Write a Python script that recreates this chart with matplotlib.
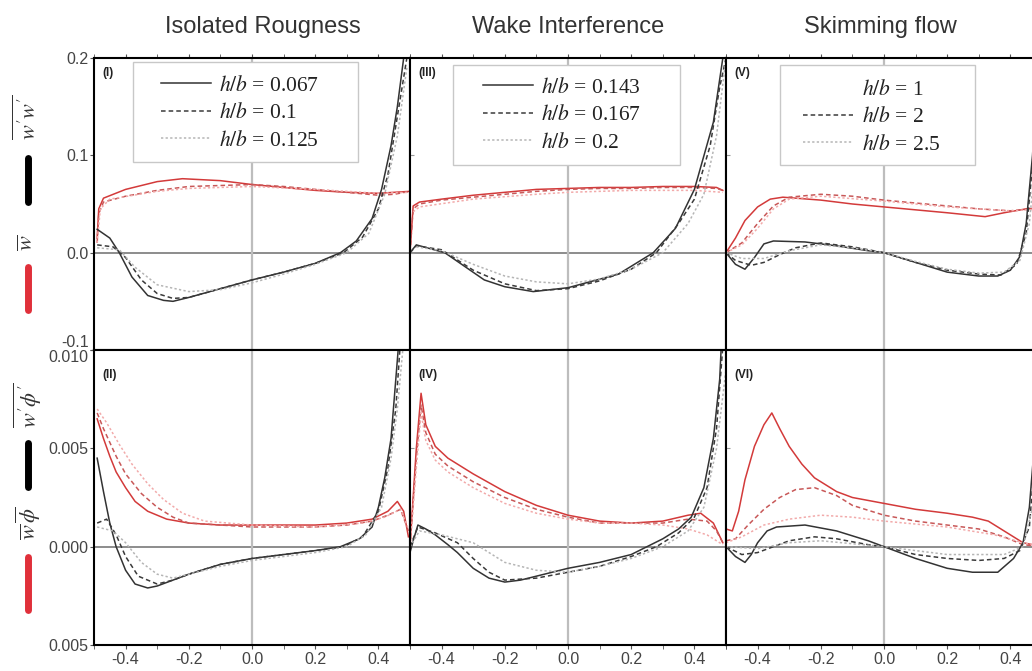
import numpy as np
import matplotlib
matplotlib.use("Agg")
import matplotlib.pyplot as plt
from matplotlib.lines import Line2D
from matplotlib.patches import Rectangle
from matplotlib.ticker import FixedLocator, FixedFormatter, MultipleLocator

plt.rcParams['font.family'] = ['Liberation Sans', 'DejaVu Sans']
plt.rcParams['mathtext.fontset'] = 'stix'

# -------------------------
# data
# -------------------------
col_titles = ["Isolated Rougness", "Wake Interference", "Skimming flow"]
panel_tags = [["(I)", "(III)", "(V)"], ["(II)", "(IV)", "(VI)"]]
legend_labels = [["0.067", "0.1", "0.125"], ["0.143", "0.167", "0.2"], ["1", "2", "2.5"]]

top_yticks = [0.2, 0.1, 0.0, -0.1]
top_ytick_labels = ["0.2", "0.1", "0.0", "-0.1"]
bot_yticks = [0.010, 0.005, 0.000, -0.005]
bot_ytick_labels = ["0.010", "0.005", "0.000", "0.005"]
xticks = [-0.4, -0.2, 0.0, 0.2, 0.4]
xtick_labels = ["-0.4", "-0.2", "0.0", "0.2", "0.4"]

# panel I : turbulent flux (black) and mean (red), three h/b each
p1_k_solid_x = [-0.49, -0.45, -0.42, -0.38, -0.33, -0.28, -0.25, -0.2, -0.1, 0.0, 0.1, 0.2, 0.28, 0.33, 0.38, 0.41, 0.44, 0.46, 0.48]
p1_k_solid_y = [0.024, 0.015, 0.0, -0.025, -0.044, -0.049, -0.050, -0.046, -0.037, -0.028, -0.020, -0.011, 0.0, 0.012, 0.035, 0.065, 0.11, 0.15, 0.2]
p1_k_dash_x = [-0.49, -0.44, -0.40, -0.35, -0.3, -0.25, -0.2, -0.1, 0.0, 0.1, 0.2, 0.29, 0.35, 0.40, 0.43, 0.46, 0.49]
p1_k_dash_y = [0.008, 0.006, -0.005, -0.028, -0.042, -0.047, -0.046, -0.037, -0.028, -0.020, -0.011, 0.0, 0.016, 0.045, 0.08, 0.14, 0.2]
p1_k_dot_x = [-0.49, -0.42, -0.37, -0.3, -0.2, -0.1, 0.0, 0.1, 0.2, 0.3, 0.37, 0.42, 0.46, 0.49]
p1_k_dot_y = [0.005, 0.003, -0.015, -0.033, -0.040, -0.038, -0.031, -0.022, -0.012, 0.0, 0.02, 0.06, 0.12, 0.19]
p1_r_solid_x = [-0.49, -0.485, -0.47, -0.4, -0.3, -0.22, -0.1, 0.0, 0.1, 0.2, 0.3, 0.4, 0.45, 0.5]
p1_r_solid_y = [0.015, 0.045, 0.056, 0.065, 0.073, 0.076, 0.074, 0.070, 0.067, 0.064, 0.062, 0.061, 0.062, 0.063]
p1_r_dash_x = [-0.49, -0.485, -0.47, -0.4, -0.3, -0.2, -0.1, 0.0, 0.1, 0.2, 0.3, 0.4, 0.45, 0.5]
p1_r_dash_y = [0.010, 0.040, 0.052, 0.058, 0.064, 0.068, 0.069, 0.070, 0.068, 0.065, 0.062, 0.059, 0.060, 0.063]
p1_r_dot_x = [-0.49, -0.48, -0.45, -0.3, -0.2, 0.0, 0.2, 0.4, 0.5]
p1_r_dot_y = [0.010, 0.045, 0.055, 0.063, 0.066, 0.068, 0.065, 0.061, 0.062]

# panel III
p3_k_solid_x = [-0.5, -0.48, -0.39, -0.265, -0.2, -0.11, 0.0, 0.16, 0.27, 0.34, 0.40, 0.46, 0.49]
p3_k_solid_y = [0.0, 0.008, 0.0, -0.028, -0.035, -0.040, -0.036, -0.022, 0.0, 0.025, 0.065, 0.134, 0.2]
p3_k_dash_x = [-0.5, -0.48, -0.4, -0.3, -0.2, -0.1, 0.0, 0.1, 0.2, 0.28, 0.35, 0.4, 0.45, 0.48, 0.5]
p3_k_dash_y = [0.0, 0.007, 0.003, -0.018, -0.032, -0.039, -0.037, -0.029, -0.017, 0.0, 0.03, 0.055, 0.11, 0.17, 0.2]
p3_k_dot_x = [-0.48, -0.4, -0.3, -0.2, -0.1, 0.0, 0.1, 0.2, 0.3, 0.38, 0.43, 0.47, 0.5]
p3_k_dot_y = [0.006, 0.002, -0.012, -0.024, -0.030, -0.032, -0.027, -0.017, 0.0, 0.03, 0.06, 0.12, 0.2]
p3_r_solid_x = [-0.5, -0.49, -0.47, -0.4, -0.3, -0.2, -0.1, 0.0, 0.1, 0.2, 0.3, 0.4, 0.47, 0.49]
p3_r_solid_y = [0.0, 0.048, 0.052, 0.055, 0.059, 0.062, 0.065, 0.066, 0.067, 0.067, 0.068, 0.068, 0.067, 0.064]
p3_r_dash_x = [-0.5, -0.49, -0.47, -0.4, -0.3, -0.2, -0.1, 0.0, 0.1, 0.2, 0.3, 0.4, 0.47, 0.49]
p3_r_dash_y = [0.0, 0.045, 0.050, 0.054, 0.057, 0.060, 0.063, 0.065, 0.066, 0.066, 0.067, 0.067, 0.066, 0.064]
p3_r_dot_x = [-0.49, -0.47, -0.3, -0.1, 0.0, 0.2, 0.4, 0.49]
p3_r_dot_y = [0.042, 0.047, 0.055, 0.060, 0.062, 0.064, 0.064, 0.062]

# panel V
p5_k_solid_x = [-0.5, -0.47, -0.44, -0.41, -0.38, -0.35, -0.25, -0.15, -0.05, 0.0, 0.1, 0.2, 0.3, 0.36, 0.4, 0.43, 0.45, 0.47, 0.49]
p5_k_solid_y = [0.0, -0.012, -0.017, -0.005, 0.009, 0.012, 0.011, 0.007, 0.002, 0.0, -0.010, -0.020, -0.024, -0.024, -0.018, -0.004, 0.03, 0.1, 0.2]
p5_k_dash_x = [-0.5, -0.47, -0.42, -0.38, -0.33, -0.28, -0.2, -0.1, 0.0, 0.1, 0.2, 0.3, 0.37, 0.42, 0.45, 0.47, 0.49]
p5_k_dash_y = [0.0, -0.008, -0.013, -0.010, -0.002, 0.005, 0.010, 0.006, 0.0, -0.010, -0.018, -0.022, -0.023, -0.012, 0.02, 0.09, 0.2]
p5_k_dot_x = [-0.5, -0.45, -0.38, -0.3, -0.2, -0.1, 0.0, 0.1, 0.2, 0.3, 0.38, 0.43, 0.46, 0.48, 0.5]
p5_k_dot_y = [0.0, -0.006, -0.006, 0.002, 0.008, 0.005, 0.0, -0.009, -0.017, -0.021, -0.020, -0.008, 0.03, 0.1, 0.2]
p5_r_solid_x = [-0.5, -0.47, -0.44, -0.4, -0.36, -0.32, -0.2, -0.1, 0.0, 0.1, 0.2, 0.32, 0.38, 0.45, 0.5]
p5_r_solid_y = [0.0, 0.015, 0.033, 0.047, 0.055, 0.057, 0.054, 0.050, 0.047, 0.044, 0.041, 0.037, 0.041, 0.045, 0.046]
p5_r_dash_x = [-0.5, -0.45, -0.4, -0.35, -0.3, -0.2, -0.1, 0.0, 0.1, 0.2, 0.3, 0.4, 0.5]
p5_r_dash_y = [0.0, 0.010, 0.030, 0.048, 0.057, 0.060, 0.058, 0.054, 0.051, 0.048, 0.045, 0.043, 0.046]
p5_r_dot_x = [-0.5, -0.45, -0.4, -0.35, -0.3, -0.2, 0.0, 0.2, 0.4, 0.5]
p5_r_dot_y = [0.0, 0.008, 0.025, 0.045, 0.055, 0.058, 0.053, 0.047, 0.043, 0.045]

# panel II
p2_k_solid_x = [-0.49, -0.47, -0.45, -0.43, -0.4, -0.37, -0.33, -0.3, -0.2, -0.1, 0.0, 0.1, 0.2, 0.28, 0.34, 0.38, 0.4, 0.42, 0.44, 0.46, 0.465]
p2_k_solid_y = [0.0045, 0.0028, 0.0012, 0.0, -0.0012, -0.0019, -0.0021, -0.0020, -0.0014, -0.0009, -0.0006, -0.0004, -0.0002, 0.0, 0.0004, 0.0010, 0.0020, 0.0035, 0.0055, 0.0095, 0.0105]
p2_k_dash_x = [-0.49, -0.46, -0.43, -0.4, -0.36, -0.3, -0.25, -0.2, -0.1, 0.0, 0.1, 0.2, 0.29, 0.35, 0.4, 0.43, 0.455, 0.47]
p2_k_dash_y = [0.0012, 0.0014, 0.0006, -0.0005, -0.0015, -0.0019, -0.0017, -0.0014, -0.0009, -0.0006, -0.0004, -0.0002, 0.0, 0.0005, 0.0018, 0.0040, 0.0070, 0.0105]
p2_k_dot_x = [-0.49, -0.44, -0.4, -0.35, -0.3, -0.25, -0.2, -0.1, 0.0, 0.1, 0.2, 0.3, 0.36, 0.41, 0.44, 0.46, 0.48]
p2_k_dot_y = [0.0010, 0.0008, 0.0002, -0.0008, -0.0014, -0.0016, -0.0014, -0.0010, -0.0007, -0.0005, -0.0003, 0.0, 0.0006, 0.0020, 0.0045, 0.0070, 0.0105]
p2_r_solid_x = [-0.49, -0.47, -0.45, -0.43, -0.4, -0.37, -0.33, -0.27, -0.2, -0.1, 0.0, 0.1, 0.2, 0.3, 0.38, 0.43, 0.46, 0.48, 0.495]
p2_r_solid_y = [0.0065, 0.0055, 0.0046, 0.0038, 0.0030, 0.0023, 0.0018, 0.0014, 0.0012, 0.0011, 0.0011, 0.0011, 0.0011, 0.0012, 0.0014, 0.0018, 0.0023, 0.0018, 0.0005]
p2_r_dash_x = [-0.49, -0.47, -0.43, -0.4, -0.35, -0.3, -0.25, -0.2, -0.1, 0.0, 0.2, 0.3, 0.38, 0.43, 0.47, 0.495]
p2_r_dash_y = [0.0068, 0.0060, 0.0046, 0.0037, 0.0027, 0.0020, 0.0015, 0.0012, 0.0011, 0.0010, 0.0010, 0.0011, 0.0013, 0.0016, 0.0019, 0.0008]
p2_r_dot_x = [-0.49, -0.46, -0.42, -0.38, -0.33, -0.28, -0.22, -0.15, 0.0, 0.2, 0.35, 0.42, 0.47, 0.495]
p2_r_dot_y = [0.0070, 0.0063, 0.0052, 0.0042, 0.0032, 0.0024, 0.0017, 0.0013, 0.0011, 0.0010, 0.0012, 0.0015, 0.0019, 0.0009]

# panel IV
p4_k_solid_x = [-0.5, -0.49, -0.475, -0.45, -0.42, -0.38, -0.35, -0.3, -0.25, -0.2, -0.15, -0.1, 0.0, 0.1, 0.2, 0.25, 0.3, 0.35, 0.39, 0.43, 0.46, 0.48, 0.485]
p4_k_solid_y = [-0.0003, 0.0003, 0.0011, 0.0009, 0.0006, 0.0001, -0.0003, -0.0011, -0.0016, -0.0018, -0.0017, -0.0015, -0.0011, -0.0008, -0.0004, 0.0, 0.0004, 0.0009, 0.0015, 0.0030, 0.0055, 0.0085, 0.0102]
p4_k_dash_x = [-0.5, -0.475, -0.42, -0.35, -0.3, -0.25, -0.2, -0.1, 0.0, 0.1, 0.2, 0.28, 0.35, 0.4, 0.44, 0.47, 0.49]
p4_k_dash_y = [0.0, 0.0010, 0.0007, 0.0002, -0.0006, -0.0013, -0.0017, -0.0016, -0.0013, -0.0010, -0.0005, 0.0, 0.0007, 0.0015, 0.0030, 0.0060, 0.0102]
p4_k_dot_x = [-0.5, -0.47, -0.4, -0.3, -0.2, -0.1, 0.0, 0.1, 0.2, 0.3, 0.38, 0.43, 0.47, 0.5]
p4_k_dot_y = [0.0, 0.0008, 0.0006, 0.0002, -0.0008, -0.0012, -0.0013, -0.0010, -0.0006, 0.0, 0.0008, 0.0020, 0.0050, 0.0090]
p4_r_solid_x = [-0.5, -0.48, -0.465, -0.45, -0.42, -0.38, -0.3, -0.2, -0.1, 0.0, 0.1, 0.2, 0.3, 0.38, 0.42, 0.46, 0.49]
p4_r_solid_y = [0.0, 0.0050, 0.0078, 0.0062, 0.0051, 0.0045, 0.0037, 0.0028, 0.0021, 0.0016, 0.0013, 0.0012, 0.0013, 0.0016, 0.0017, 0.0012, 0.0002]
p4_r_dash_x = [-0.5, -0.48, -0.465, -0.45, -0.42, -0.38, -0.3, -0.2, -0.1, 0.0, 0.1, 0.2, 0.3, 0.38, 0.44, 0.47, 0.49]
p4_r_dash_y = [0.0, 0.0045, 0.0072, 0.0058, 0.0047, 0.0041, 0.0033, 0.0025, 0.0019, 0.0015, 0.0012, 0.0012, 0.0012, 0.0014, 0.0013, 0.0008, 0.0002]
p4_r_dot_x = [-0.5, -0.48, -0.465, -0.45, -0.42, -0.38, -0.3, -0.2, -0.1, 0.0, 0.1, 0.2, 0.3, 0.38, 0.44, 0.49]
p4_r_dot_y = [0.0, 0.0040, 0.0068, 0.0054, 0.0044, 0.0038, 0.0030, 0.0022, 0.0017, 0.0014, 0.0012, 0.0012, 0.0011, 0.0009, 0.0006, 0.0001]

# panel VI
p6_k_solid_x = [-0.5, -0.47, -0.44, -0.42, -0.4, -0.37, -0.34, -0.25, -0.15, -0.05, 0.0, 0.1, 0.2, 0.28, 0.36, 0.41, 0.44, 0.46, 0.48, 0.5]
p6_k_solid_y = [0.0, -0.0005, -0.0008, -0.0004, 0.0002, 0.0008, 0.0010, 0.0011, 0.0008, 0.0003, 0.0, -0.0006, -0.0011, -0.0013, -0.0013, -0.0006, 0.0002, 0.0020, 0.0060, 0.0105]
p6_k_dash_x = [-0.5, -0.45, -0.4, -0.35, -0.3, -0.22, -0.15, -0.05, 0.0, 0.1, 0.2, 0.3, 0.38, 0.43, 0.46, 0.48, 0.5]
p6_k_dash_y = [0.0, -0.0004, -0.0003, 0.0, 0.0003, 0.0005, 0.0004, 0.0001, 0.0, -0.0004, -0.0006, -0.0007, -0.0006, -0.0002, 0.0010, 0.0050, 0.0105]
p6_k_dot_x = [-0.5, -0.4, -0.3, -0.2, 0.0, 0.2, 0.38, 0.44, 0.47, 0.5]
p6_k_dot_y = [0.0, -0.0001, 0.0002, 0.0003, 0.0, -0.0004, -0.0004, 0.0, 0.0020, 0.0080]
p6_r_solid_x = [-0.5, -0.48, -0.46, -0.44, -0.41, -0.38, -0.355, -0.33, -0.3, -0.26, -0.22, -0.15, -0.1, 0.0, 0.1, 0.2, 0.28, 0.33, 0.38, 0.44, 0.5]
p6_r_solid_y = [0.0009, 0.0008, 0.0018, 0.0034, 0.0051, 0.0062, 0.0068, 0.0060, 0.0051, 0.0042, 0.0035, 0.0028, 0.0025, 0.0022, 0.0019, 0.0017, 0.0015, 0.0013, 0.0008, 0.0002, 0.0]
p6_r_dash_x = [-0.5, -0.47, -0.43, -0.38, -0.33, -0.28, -0.22, -0.15, -0.1, 0.0, 0.1, 0.2, 0.3, 0.38, 0.44, 0.5]
p6_r_dash_y = [0.0003, 0.0004, 0.0011, 0.0019, 0.0025, 0.0029, 0.0030, 0.0026, 0.0021, 0.0016, 0.0013, 0.0011, 0.0009, 0.0005, 0.0001, 0.0]
p6_r_dot_x = [-0.5, -0.45, -0.38, -0.3, -0.2, -0.1, 0.0, 0.2, 0.35, 0.44, 0.5]
p6_r_dot_y = [0.0002, 0.0005, 0.0011, 0.0014, 0.0016, 0.0015, 0.0013, 0.0010, 0.0006, 0.0002, 0.0]

panels = [
    [(p1_k_solid_x, p1_k_solid_y, p1_k_dash_x, p1_k_dash_y, p1_k_dot_x, p1_k_dot_y,
      p1_r_solid_x, p1_r_solid_y, p1_r_dash_x, p1_r_dash_y, p1_r_dot_x, p1_r_dot_y),
     (p3_k_solid_x, p3_k_solid_y, p3_k_dash_x, p3_k_dash_y, p3_k_dot_x, p3_k_dot_y,
      p3_r_solid_x, p3_r_solid_y, p3_r_dash_x, p3_r_dash_y, p3_r_dot_x, p3_r_dot_y),
     (p5_k_solid_x, p5_k_solid_y, p5_k_dash_x, p5_k_dash_y, p5_k_dot_x, p5_k_dot_y,
      p5_r_solid_x, p5_r_solid_y, p5_r_dash_x, p5_r_dash_y, p5_r_dot_x, p5_r_dot_y)],
    [(p2_k_solid_x, p2_k_solid_y, p2_k_dash_x, p2_k_dash_y, p2_k_dot_x, p2_k_dot_y,
      p2_r_solid_x, p2_r_solid_y, p2_r_dash_x, p2_r_dash_y, p2_r_dot_x, p2_r_dot_y),
     (p4_k_solid_x, p4_k_solid_y, p4_k_dash_x, p4_k_dash_y, p4_k_dot_x, p4_k_dot_y,
      p4_r_solid_x, p4_r_solid_y, p4_r_dash_x, p4_r_dash_y, p4_r_dot_x, p4_r_dot_y),
     (p6_k_solid_x, p6_k_solid_y, p6_k_dash_x, p6_k_dash_y, p6_k_dot_x, p6_k_dot_y,
      p6_r_solid_x, p6_r_solid_y, p6_r_dash_x, p6_r_dash_y, p6_r_dot_x, p6_r_dot_y)],
]

# line styles: black flux / red mean, solid - dashed - dotted
k_styles = [dict(color='#333333', ls='-', lw=1.1),
            dict(color='#3a3a3a', ls=(0, (3, 2)), lw=1.1),
            dict(color='#b5b5b5', ls=(0, (1.5, 1.5)), lw=1.1)]
r_styles = [dict(color='#d33a3a', ls='-', lw=1.1),
            dict(color='#c85858', ls=(0, (3, 2)), lw=1.1),
            dict(color='#f2aaaa', ls=(0, (1.5, 1.5)), lw=1.1)]

# -------------------------
# figure
# -------------------------
W, H = 1032, 671
fig = plt.figure(figsize=(W / 100, H / 100), dpi=100)

col_left = [94, 410, 726]
col_w = 316
row_top = [58, 350]
row_bot = [350, 645]
ylims = [(-0.1, 0.2), (-0.005, 0.010)]
title_x = [263, 568, 880]

# legend boxes (axes fractions): x0, x1, y0, y1 ; legend anchor (x, y)
leg_box = [(0.123, 0.835, 0.644, 0.986), (0.136, 0.854, 0.634, 0.976), (0.171, 0.788, 0.634, 0.976)]
leg_anchor = [(0.213, 0.940), (0.232, 0.933), (0.245, 0.926)]

tick_lab = dict(labelsize=11.5, labelcolor='#444444')

for r in range(2):
    for c in range(3):
        ax = fig.add_axes([col_left[c] / W, 1 - row_bot[r] / H,
                           col_w / W, (row_bot[r] - row_top[r]) / H])
        ax.set_xlim(-0.5, 0.5)
        ax.set_ylim(*ylims[r])
        ax.axhline(0, color='#8c8c8c', lw=1.4, zorder=1)
        ax.axvline(0, color='#bdbdbd', lw=1.6, zorder=1)

        d = panels[r][c]
        for i in range(3):
            ax.plot(d[6 + 2 * i], d[7 + 2 * i], zorder=3, **r_styles[i])
        for i in range(3):
            ax.plot(d[2 * i], d[2 * i + 1], zorder=4, **k_styles[i])

        for s in ax.spines.values():
            s.set_linewidth(1.5)
            s.set_color('black')
            s.set_zorder(6)

        if r == 0:
            ax.yaxis.set_major_locator(FixedLocator(top_yticks))
            ax.yaxis.set_major_formatter(FixedFormatter(top_ytick_labels))
        else:
            ax.yaxis.set_major_locator(FixedLocator(bot_yticks))
            ax.yaxis.set_major_formatter(FixedFormatter(bot_ytick_labels))
        ax.xaxis.set_major_locator(FixedLocator(xticks))
        ax.xaxis.set_major_formatter(FixedFormatter(xtick_labels))
        ax.xaxis.set_minor_locator(MultipleLocator(0.1))

        if r == 0:
            ax.tick_params(axis='x', which='both', bottom=False, top=True,
                           labelbottom=False, direction='out', length=3,
                           color='#555555')
        else:
            ax.tick_params(axis='x', which='both', bottom=True, top=False,
                           labelbottom=True, direction='out', length=3,
                           color='#555555', pad=2, **tick_lab)
        if c == 0:
            ax.tick_params(axis='y', direction='out', length=3, color='#555555',
                           pad=1, **tick_lab)
            ticks = ax.yaxis.get_major_ticks()
            # keep the -0.1 / 0.010 labels apart at the row seam
            if r == 0:
                ticks[3].label1.set_va('bottom')
            else:
                ticks[0].label1.set_va('top')
        else:
            ax.tick_params(axis='y', direction='in', length=3, color='#999999',
                           labelleft=False)

        ax.text(0.025, 0.95 if r == 0 else 0.915, panel_tags[r][c],
                transform=ax.transAxes, fontsize=8.5, fontweight='bold',
                color='#222222', ha='left', va='center')

        if r == 0:
            bx0, bx1, by0, by1 = leg_box[c]
            ax.add_patch(Rectangle((bx0, by0), bx1 - bx0, by1 - by0,
                                   transform=ax.transAxes, facecolor='white',
                                   edgecolor='#c8c8c8', lw=1.0, zorder=2))
            handles = []
            for i in range(3):
                st = dict(k_styles[i])
                if c == 2 and i == 0:
                    st['color'] = 'none'
                handles.append(Line2D([], [], **st))
            labels = [r'$h/b$ = ' + v for v in legend_labels[c]]
            leg = ax.legend(handles, labels, loc='upper left',
                            bbox_to_anchor=leg_anchor[c], frameon=False,
                            prop={'family': ['Liberation Serif', 'DejaVu Serif'], 'size': 15.5},
                            handlelength=2.3, handletextpad=0.4,
                            borderpad=0, labelspacing=0.35,
                            borderaxespad=0)
            leg.set_zorder(5)
            for t in leg.get_texts():
                t.set_color('#222222')

# column titles
for c in range(3):
    fig.text(title_x[c] / W, 1 - 27 / H, col_titles[c],
             ha='center', va='center', fontsize=17, color='#333333')

# y labels with colour keys
lab_x = 28 / W
fig.text(lab_x, 1 - 117 / H, r"$\overline{w^{\prime}w^{\prime}}$", rotation=90,
         ha='center', va='center', fontsize=16, color='#333333')
fig.text(lab_x, 1 - 243 / H, r"$\overline{w}$", rotation=90,
         ha='center', va='center', fontsize=16, color='#333333')
fig.text(lab_x, 1 - 405 / H, r"$\overline{w^{\prime}\phi^{\prime}}$", rotation=90,
         ha='center', va='center', fontsize=16, color='#333333')
fig.text(lab_x, 1 - 523 / H, r"$\overline{w}\,\overline{\phi}$", rotation=90,
         ha='center', va='center', fontsize=16, color='#333333')

bars = [(158, 202, 'black'), (267, 310, '#e0303a'),
        (443, 487, 'black'), (557, 610, '#e0303a')]
for y0, y1, colr in bars:
    fig.add_artist(Line2D([lab_x, lab_x], [1 - y0 / H, 1 - y1 / H],
                          color=colr, lw=5, solid_capstyle='round'))

fig.savefig("out.png", dpi=100)
